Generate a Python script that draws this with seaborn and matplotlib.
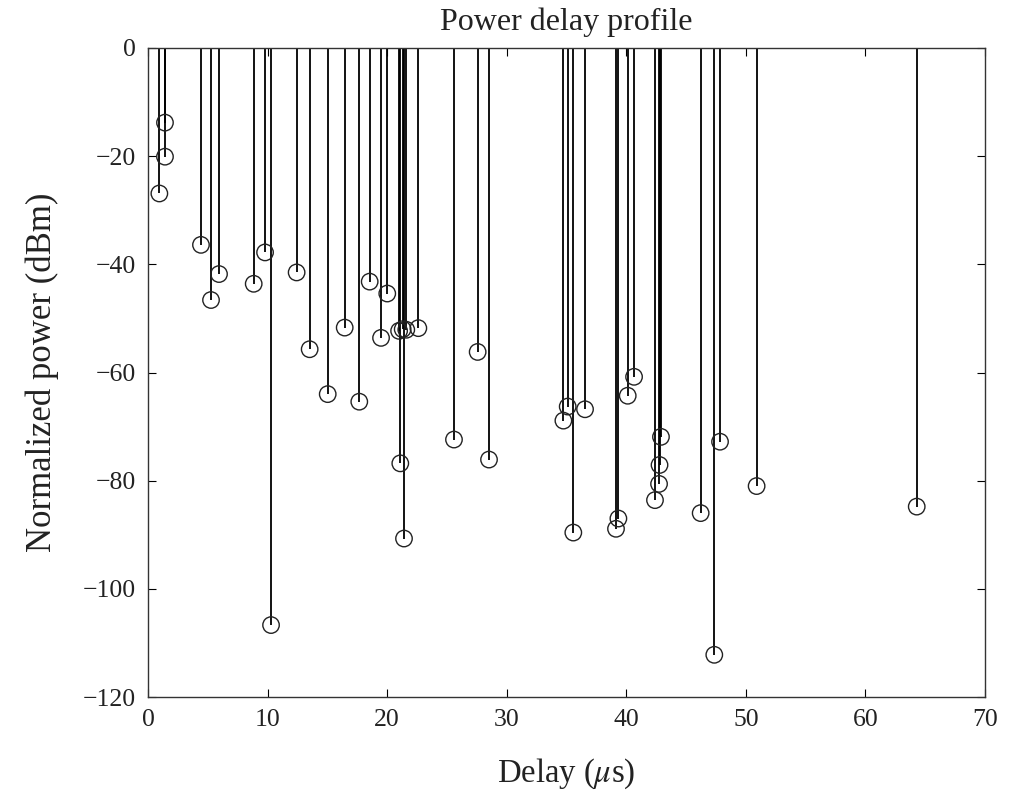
import matplotlib
matplotlib.use("Agg")
import matplotlib.pyplot as plt
import seaborn as sns
import pandas as pd

delays = [0.95, 1.42, 1.42, 4.43, 5.27, 5.94, 8.84, 9.79, 10.29, 12.43, 13.52,
          15.03, 16.45, 17.67, 18.54, 19.49, 20.01, 21.0, 21.1, 21.3, 21.41,
          21.6, 22.61, 25.59, 27.57, 28.52, 34.74, 35.1, 35.57, 36.55, 39.14,
          39.34, 40.12, 40.65, 42.4, 42.74, 42.78, 42.9, 46.22, 47.36, 47.84,
          50.9, 64.29]
powers = [-26.9, -13.8, -20.1, -36.4, -46.6, -41.8, -43.6, -37.8, -106.7, -41.5, -55.7,
          -64.0, -51.7, -65.4, -43.2, -53.6, -45.4, -52.3, -76.8, -52.0, -90.7,
          -52.1, -51.8, -72.4, -56.2, -76.1, -68.9, -66.3, -89.6, -66.8, -88.9,
          -87.0, -64.3, -60.8, -83.6, -80.6, -77.1, -71.9, -86.0, -112.2, -72.8,
          -81.0, -84.8]

df = pd.DataFrame({"delay": delays, "power": powers})

sns.set_theme(style="white")
plt.rcParams["font.family"] = ["Liberation Serif", "DejaVu Serif"]
plt.rcParams["mathtext.fontset"] = "stix"

fig = plt.figure(figsize=(10.09, 7.99), dpi=100)
ax = fig.add_axes([148/1009, 1 - 697/799, (985-148)/1009, (697-48)/799])

ax.vlines(df["delay"], 0, df["power"], color="black", linewidth=1.3, zorder=2)
sns.scatterplot(data=df, x="delay", y="power", ax=ax, marker="o", s=140,
                facecolors="none", edgecolor="#222222", linewidth=1.0, zorder=3)

ax.set_xlim(0, 70)
ax.set_ylim(-120, 0)
ax.set_xticks(range(0, 71, 10))
ax.set_yticks(range(-120, 1, 20))
ax.tick_params(direction="in", length=6, width=0.8, colors="black",
               labelsize=18.5, top=True, right=True, bottom=True, left=True,
               labelcolor="#222222", pad=9)
for s in ax.spines.values():
    s.set_color("#333333")
    s.set_linewidth(1.0)
    s.set_visible(True)

ax.set_title("Power delay profile", fontsize=23, pad=13, color="#222222")
ax.set_xlabel(r"Delay ($\mu$s)", fontsize=23.5, labelpad=18, color="#222222")
ax.set_ylabel("Normalized power (dBm)", fontsize=25, labelpad=17, color="#222222")

fig.savefig("out.png", dpi=100, facecolor="white")
